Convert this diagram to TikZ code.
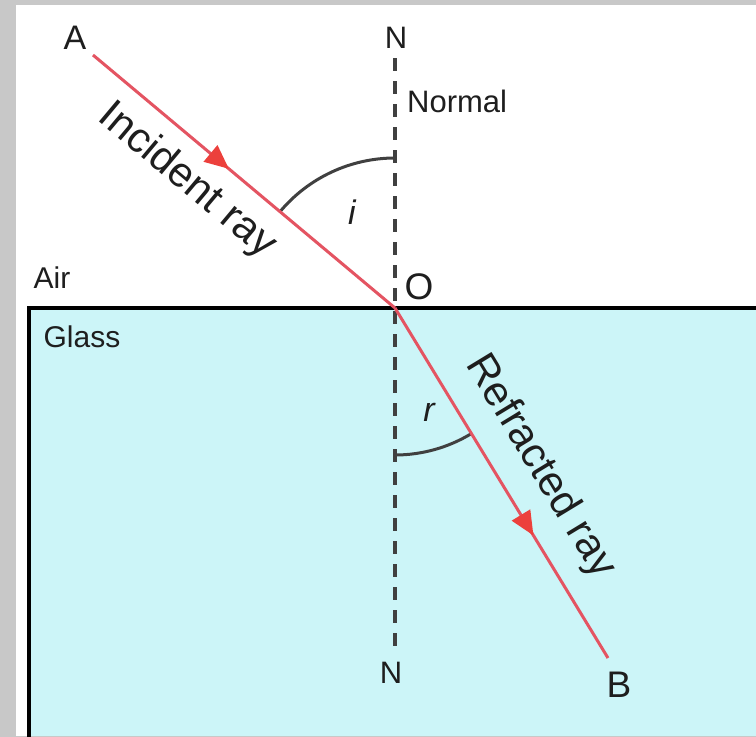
\documentclass[tikz,border=0pt]{standalone}
\usepackage{fontspec}
\setmainfont{Liberation Sans}
\usetikzlibrary{arrows.meta,decorations.markings}
\definecolor{framegray}{RGB}{200,200,200}
\definecolor{glassc}{RGB}{204,245,248}
\definecolor{rayc}{RGB}{228,84,98}
\definecolor{headc}{RGB}{236,64,60}
\definecolor{inkc}{RGB}{30,30,30}
\tikzset{
  lbl/.style={text=inkc, inner sep=0pt, font=\fontsize{#1}{#1}\selectfont},
  lbl/.default=32,
  ray/.style={draw=rayc, line width=3pt, postaction=decorate,
    decoration={markings, mark=at position #1 with {\arrow[headc]{Triangle[length=24pt,width=21pt]}}}},
  normalline/.style={draw=inkc!85, line width=3.6pt, dash pattern=on 13pt off 10pt},
  anglearc/.style={draw=inkc!85, line width=3pt},
  boundary/.style={draw=black, line width=3.8pt}
}
\begin{document}
\begin{tikzpicture}[x=1pt,y=-1pt]
\useasboundingbox (0,0) rectangle (756,737);
% frame and media
\fill[framegray] (0,0) rectangle (756,737);
\fill[white] (16,5) rectangle (756,736);
\fill[glassc] (29,308) rectangle (756,736);
\draw[boundary] (29,737) -- (29,308) -- (756,308);
% key points
\coordinate (S) at (93,55);
\coordinate (O) at (395,308);
\coordinate (E) at (608,658);
\coordinate (N1) at (395,58);
\coordinate (N2) at (395,647);
\coordinate (ia) at (395,158);
\coordinate (ra) at (395,455);
% normal
\draw[normalline] (N1) -- (N2);
% angle arcs
\draw[anglearc] (ia) arc[start angle=90, end angle=140, radius=150pt];
\draw[anglearc] (ra) arc[start angle=270, end angle=301.3, radius=147pt];
% rays
\draw[ray=0.45] (S) -- (O);
\draw[ray=0.65] (O) -- (E);
% labels
\node[lbl=34] (A) at (75,38) {A};
\node[lbl=31] (Ntop) at (396,38) {N};
\node[lbl=31, anchor=west] (normal) at (407,101) {Normal};
\node[lbl=34] (i) at (352,212) {\itshape i};
\node[lbl=37] (Olbl) at (419,287) {O};
\node[lbl=30] (air) at (52,278) {Air};
\node[lbl=30] (glass) at (82,337) {Glass};
\node[lbl=34] (r) at (429,412) {\itshape r};
\node[lbl=31] (Nbot) at (391,673) {N};
\node[lbl=37] (B) at (619,685) {B};
\node[lbl=42, rotate=-40] (inc) at (187,181) {Incident ray};
\node[lbl=42, rotate=-58.7] (ref) at (540,467) {Refracted ray};
\end{tikzpicture}
\end{document}
